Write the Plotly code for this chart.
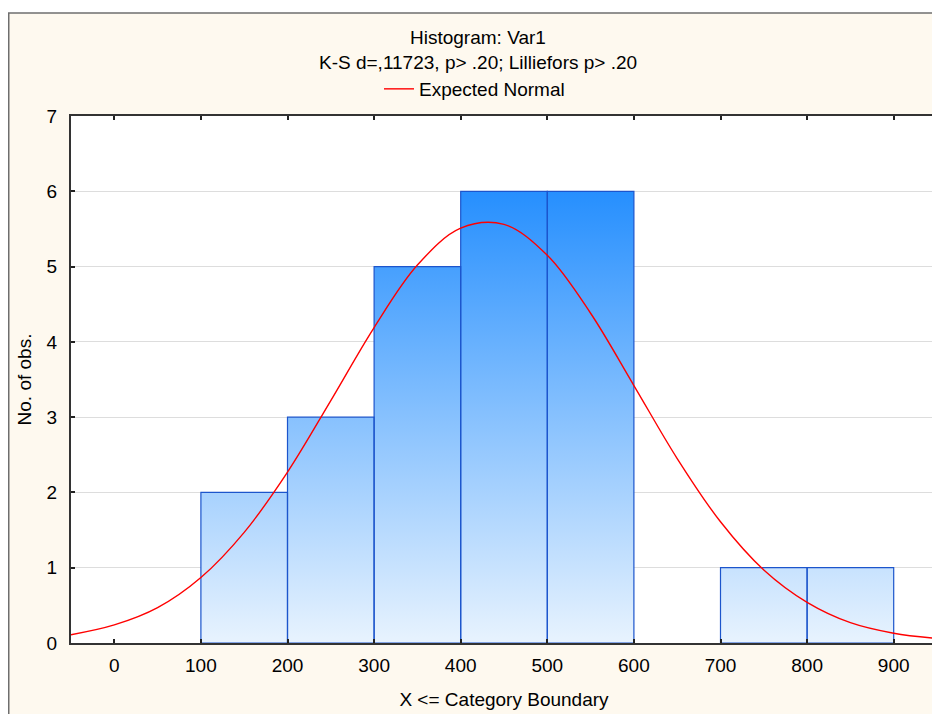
import plotly.graph_objects as go

# ---- data ----
bin_edges = [100, 200, 300, 400, 500, 600, 700, 800, 900]
counts = [2, 3, 5, 6, 6, 0, 1, 1]

normal_x = [-50, 0, 50, 100, 150, 200, 250, 300, 350, 400, 450, 500,
            550, 600, 650, 700, 750, 800, 850, 900, 950]
normal_y = [0.11, 0.24, 0.47, 0.87, 1.47, 2.27, 3.22, 4.19, 5.02, 5.51, 5.56, 5.15,
            4.38, 3.42, 2.45, 1.61, 0.97, 0.54, 0.27, 0.13, 0.06]

x_ticks = [0, 100, 200, 300, 400, 500, 600, 700, 800, 900]
y_ticks = [0, 1, 2, 3, 4, 5, 6, 7]

title_line1 = "Histogram: Var1"
title_line2 = "K-S d=,11723, p> .20; Lilliefors p> .20"
x_title = "X <= Category Boundary"
y_title = "No. of obs."
legend_name = "Expected Normal"

# ---- layout geometry (figure pixels; the page adds an 8px body margin) ----
W, H = 932, 706
ML, MR, MT, MB = 63, 3, 108, 71
PW, PH = W - ML - MR, H - MT - MB
FONT = "Liberation Sans, Arial, sans-serif"
FS = 19


def px_x(p):
    return (p - ML) / PW


def px_y(p):
    return (H - MB - p) / PH


# build bar polygons from the histogram data
poly_x, poly_y = [], []
for i, c in enumerate(counts):
    if c <= 0:
        continue
    x0, x1 = bin_edges[i], bin_edges[i + 1]
    poly_x += [x0, x0, x1, x1, x0, None]
    poly_y += [0, c, c, 0, 0, None]

fig = go.Figure()

fig.add_trace(go.Scatter(
    x=poly_x, y=poly_y, mode="lines", fill="toself",
    line=dict(color="#1c55cc", width=1.2),
    fillgradient=dict(type="vertical",
                      colorscale=[[0, "#e8f3fe"], [1, "#268ffe"]],
                      start=0, stop=max(counts)),
    showlegend=False, hoverinfo="skip",
))

fig.add_trace(go.Scatter(
    x=normal_x, y=normal_y, mode="lines", name=legend_name,
    line=dict(color="#ff0000", width=1.4, shape="spline", smoothing=1.0),
))

axis_common = dict(
    showline=True, linecolor="#333333", linewidth=2,
    mirror="ticks", ticks="inside", ticklen=4, tickwidth=1.5, tickcolor="#222222",
    tickfont=dict(family=FONT, size=FS, color="#000000"),
    zeroline=False,
)

fig.update_xaxes(
    range=[-50, 950], tickvals=x_ticks, showgrid=False,
    title=dict(text=x_title, font=dict(family=FONT, size=FS, color="#000000"), standoff=18),
    ticklabelstandoff=4,
    **axis_common,
)
fig.update_yaxes(
    range=[0, 7], tickvals=y_ticks, showgrid=True, gridcolor="#dddddd", gridwidth=1,
    title=dict(text=y_title, font=dict(family=FONT, size=FS, color="#000000"), standoff=10),
    ticklabelstandoff=8,
    **axis_common,
)

fig.update_layout(
    width=W, height=H,
    margin=dict(l=ML, r=MR, t=MT, b=MB, autoexpand=False),
    paper_bgcolor="#fef9ef", plot_bgcolor="#ffffff",
    font=dict(family=FONT, size=FS, color="#000000"),
    showlegend=True,
    legend=dict(orientation="h", x=px_x(371), xanchor="left", y=px_y(81), yanchor="middle",
                bgcolor="rgba(0,0,0,0)", font=dict(family=FONT, size=FS, color="#000000")),
    annotations=[
        dict(text=title_line1, xref="paper", yref="paper", x=px_x(470), y=px_y(29),
             xanchor="center", yanchor="middle", showarrow=False,
             font=dict(family=FONT, size=FS, color="#000000")),
        dict(text=title_line2, xref="paper", yref="paper", x=px_x(470), y=px_y(55),
             xanchor="center", yanchor="middle", showarrow=False,
             font=dict(family=FONT, size=FS, color="#000000")),
    ],
    shapes=[
        # white strip above the frame
        dict(type="rect", xref="paper", yref="paper", x0=px_x(-5), x1=px_x(W + 5),
             y0=px_y(5), y1=px_y(-5), fillcolor="#ffffff", line=dict(width=0), layer="above"),
        # frame lines
        dict(type="line", xref="paper", yref="paper", x0=px_x(0), x1=px_x(W + 5),
             y0=px_y(5), y1=px_y(5), line=dict(color="#6e6e6e", width=1.5), layer="above"),
        dict(type="line", xref="paper", yref="paper", x0=px_x(0.75), x1=px_x(0.75),
             y0=px_y(5), y1=px_y(H + 5), line=dict(color="#6e6e6e", width=1.5), layer="above"),
    ],
)

fig.write_html("out.html")
